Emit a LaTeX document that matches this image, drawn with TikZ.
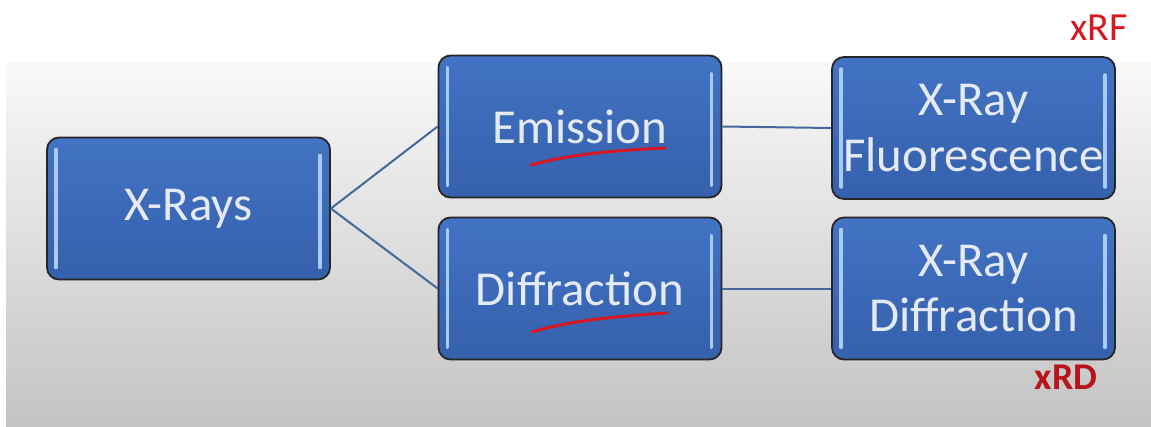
\documentclass[tikz,border=0pt]{standalone}
\usepackage{fontspec}
\setmainfont{Carlito}
\usetikzlibrary{calc}
\definecolor{boxtop}{HTML}{4373C4}
\definecolor{boxbot}{HTML}{3560AC}
\definecolor{barcol}{HTML}{A9CBF0}
\definecolor{txtcol}{HTML}{E4EAF2}
\definecolor{linkcol}{HTML}{44679C}
\definecolor{ink}{HTML}{D81820}
\definecolor{bgtop}{HTML}{F9F9F9}
\definecolor{bgbot}{HTML}{C3C3C3}
\tikzset{
  box/.style={draw=black!85, line width=1.8bp, rounded corners=12bp,
    top color=boxtop, bottom color=boxbot,
    minimum width=283bp, minimum height=142bp, inner sep=0pt,
    text=txtcol, align=center, font=\fontsize{49}{56}\selectfont,
    path picture={
      \draw[barcol, line width=3.5bp, line cap=round]
        ([xshift=9bp,yshift=-12bp]path picture bounding box.north west) --
        ([xshift=9bp,yshift=12bp]path picture bounding box.south west);
      \draw[barcol, line width=3.5bp, line cap=round]
        ([xshift=-10bp,yshift=-18bp]path picture bounding box.north east) --
        ([xshift=-10bp,yshift=12bp]path picture bounding box.south east);
    }},
  link/.style={draw=linkcol, line width=2bp},
  redink/.style={draw=ink, line width=3bp, line cap=round},
  note/.style={text=ink, font=\fontsize{40}{44}\selectfont, inner sep=0pt}
}
\begin{document}
\begin{tikzpicture}[x=1bp, y=-1bp]
\useasboundingbox (0,0) rectangle (1151,426);
\fill[white] (0,0) rectangle (1151,426);
\shade[top color=bgtop, bottom color=bgbot] (6,62) rectangle (1151,426);

\node[box] (xr)   at (188.5,208.5) {X-Rays};
\node[box] (em)   at (580,126.5) {Emission};
\node[box] (di)   at (580,288.5) {Diffraction};
\node[box] (xrf)  at (973.5,128) {X-Ray\\Fluorescence};
\node[box] (xrd)  at (973.5,288.5) {X-Ray\\Diffraction};

\draw[link] (xr.east) -- (em.west);
\draw[link] (xr.east) -- (di.west);
\draw[link] (em.east) -- (xrf.west);
\draw[link] (di.east) -- (xrd.west);

\coordinate (u1a) at (531,165);
\coordinate (u1b) at (665,148);
\coordinate (u2a) at (532,332);
\coordinate (u2b) at (667,313);
\draw[redink] (u1a) .. controls (570,154) and (620,150) .. (u1b);
\draw[redink] (u2a) .. controls (571,320) and (622,316) .. (u2b);

\node[note] (nxrf) at (1099,28) {xRF};
\node[note, text=ink!85!black, font=\fontsize{38}{42}\selectfont\bfseries] (nxrd) at (1066,377) {xRD};
\end{tikzpicture}
\end{document}
